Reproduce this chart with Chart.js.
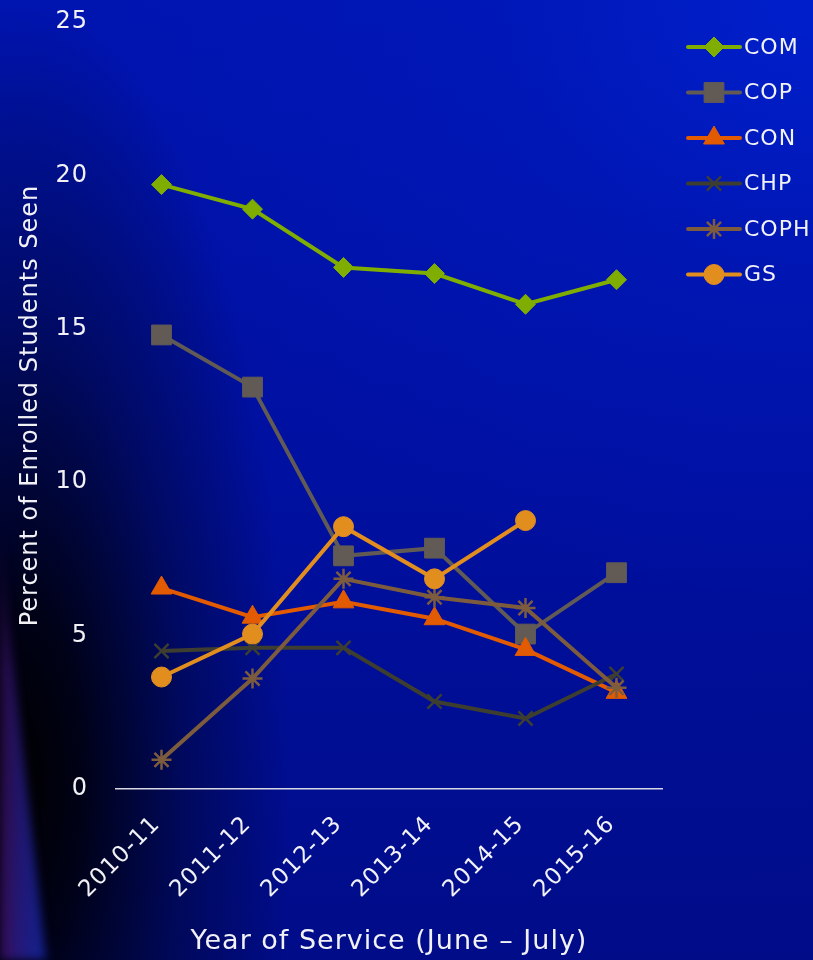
<!DOCTYPE html>
<html>
<head>
<meta charset="utf-8">
<script src="https://cdn.jsdelivr.net/npm/chart.js@4/dist/chart.umd.min.js"></script>
<style>
  html, body { margin: 0; padding: 0; }
  body { width: 813px; height: 960px; overflow: hidden; position: relative; background: #0012a0; }
  .bg {
    position: absolute; inset: 0;
    background:
      radial-gradient(ellipse 700px 600px at 100% 0%, rgba(0,32,205,0.95) 0%, rgba(0,26,190,0.5) 45%, rgba(0,20,170,0) 100%),
      radial-gradient(ellipse 270px 780px at 20px 780px, rgba(0,0,0,1) 0%, rgba(0,0,8,0.9) 22%, rgba(0,4,40,0.5) 60%, rgba(0,0,0,0) 100%),
      linear-gradient(to bottom, #0014b0 0%, #0010a0 50%, #000c88 100%);
  }
  .soft { position: absolute; inset: 0; filter: blur(5px); }
  .streak {
    position: absolute; left: 0; top: 0; width: 813px; height: 960px;
    background: linear-gradient(to right, #360c50 0px, #26187a 18px, #14208c 40px);
    -webkit-mask-image: linear-gradient(to bottom, transparent 52%, rgba(0,0,0,0.75) 70%, #000 100%);
    mask-image: linear-gradient(to bottom, transparent 52%, rgba(0,0,0,0.75) 70%, #000 100%);
    clip-path: polygon(0 520px, 5px 590px, 46px 960px, 0 960px);
  }
  canvas { position: absolute; left: 0; top: 0; }
</style>
</head>
<body>
<div class="bg"></div>
<div class="soft"><div class="streak"></div></div>
<canvas id="chart" width="813" height="960"></canvas>
<script>
// Share of enrolled students seen, by college and service year
const years = ['2010-11', '2011-12', '2012-13', '2013-14', '2014-15', '2015-16'];
const seriesNames = ['COM', 'COP', 'CON', 'CHP', 'COPH', 'GS'];
const com  = [19.7, 18.9, 17.0, 16.8, 15.8, 16.6];
const cop  = [14.8, 13.1, 7.6, 7.85, 5.05, 7.05];
const con  = [6.55, 5.6, 6.1, 5.55, 4.55, 3.15];
const chp  = [4.5, 4.6, 4.6, 2.85, 2.3, 3.75];
const coph = [0.95, 3.6, 6.85, 6.25, 5.9, 3.3];
const gs   = [3.65, 5.05, 8.55, 6.85, 8.75, null];
const yTicks = [0, 5, 10, 15, 20, 25];

const FONT = "'DejaVu Sans', 'Open Sans', sans-serif";
const TEXT = '#f2f2f6';

const styles = [
  { color: '#7fae00', point: 'rectRot',  radius: 10, border: 1 },
  { color: '#625b55', point: 'rect',     radius: 14, border: 1 },
  { color: '#e35b00', point: 'triangle', radius: 12, border: 1 },
  { color: '#3d3e30', point: 'crossRot', radius: 10, border: 2.5 },
  { color: '#7d5c3e', point: 'star',     radius: 10, border: 2.5 },
  { color: '#e28e1f', point: 'circle',   radius: 10, border: 1 }
];
const values = [com, cop, con, chp, coph, gs];

const datasets = seriesNames.map((name, i) => ({
  label: name,
  data: values[i],
  borderColor: styles[i].color,
  backgroundColor: styles[i].color,
  borderWidth: 4,
  pointStyle: styles[i].point,
  pointRadius: styles[i].radius,
  pointHoverRadius: styles[i].radius,
  pointBorderWidth: styles[i].border,
  pointBackgroundColor: styles[i].color,
  pointBorderColor: styles[i].color,
  tension: 0,
  spanGaps: false,
  order: seriesNames.length - i
}));

// Slightly tracked lettering for every text on the canvas
const tracking = {
  id: 'tracking',
  beforeLayout(chart) { chart.ctx.letterSpacing = '1px'; },
  beforeDraw(chart) { chart.ctx.letterSpacing = '1px'; }
};

// Legend on the right: a short line with the series marker in its middle
const sideLegend = {
  id: 'sideLegend',
  afterDraw(chart) {
    const ctx = chart.ctx;
    const x0 = 688, x1 = 740, yStart = 47, step = 45.5;
    ctx.save();
    chart.data.datasets.forEach((ds, i) => {
      const y = yStart + i * step;
      ctx.strokeStyle = ds.borderColor;
      ctx.lineWidth = 4;
      ctx.lineCap = 'round';
      ctx.beginPath();
      ctx.moveTo(x0, y);
      ctx.lineTo(x1, y);
      ctx.stroke();
      ctx.fillStyle = ds.pointBackgroundColor;
      ctx.strokeStyle = ds.pointBorderColor;
      ctx.lineWidth = ds.pointBorderWidth;
      ctx.lineCap = 'butt';
      Chart.helpers.drawPoint(ctx, {
        pointStyle: ds.pointStyle,
        radius: ds.pointRadius,
        rotation: 0,
        borderWidth: ds.pointBorderWidth
      }, (x0 + x1) / 2, y);
      ctx.fillStyle = TEXT;
      ctx.font = "22px " + FONT;
      ctx.textAlign = 'left';
      ctx.textBaseline = 'middle';
      ctx.fillText(ds.label, x1 + 4, y + 1);
    });
    ctx.restore();
  }
};

new Chart(document.getElementById('chart'), {
  type: 'line',
  data: { labels: years, datasets },
  plugins: [tracking, sideLegend],
  options: {
    responsive: false,
    animation: false,
    events: [],
    layout: { padding: { top: 22, right: 151, bottom: 0, left: 0 } },
    plugins: { legend: { display: false }, tooltip: { enabled: false } },
    scales: {
      x: {
        offset: true,
        grid: { display: false, drawTicks: false },
        border: { display: true, color: '#d8d8e4', width: 1.5 },
        ticks: {
          color: TEXT,
          font: { family: FONT, size: 23 },
          minRotation: 45,
          maxRotation: 45,
          padding: 22,
          labelOffset: -5
        },
        title: {
          display: true,
          text: 'Year of Service (June – July)',
          color: TEXT,
          font: { family: FONT, size: 27 },
          padding: { top: 0, bottom: 2 }
        },
        afterFit(scale) { scale.height = 171; }
      },
      y: {
        min: 0,
        max: 25,
        grid: { display: false, drawTicks: false },
        border: { display: false },
        afterBuildTicks(scale) { scale.ticks = yTicks.map(v => ({ value: v })); },
        ticks: {
          color: TEXT,
          font: { family: FONT, size: 24 },
          padding: 28
        },
        title: {
          display: true,
          text: 'Percent of Enrolled Students Seen',
          color: TEXT,
          font: { family: FONT, size: 24 },
          padding: { top: 16, bottom: 0 }
        },
        afterFit(scale) {
          scale.width = 116;
          scale.paddingTop = 0;
          scale.paddingBottom = 0;
        }
      }
    }
  }
});
</script>
</body>
</html>
